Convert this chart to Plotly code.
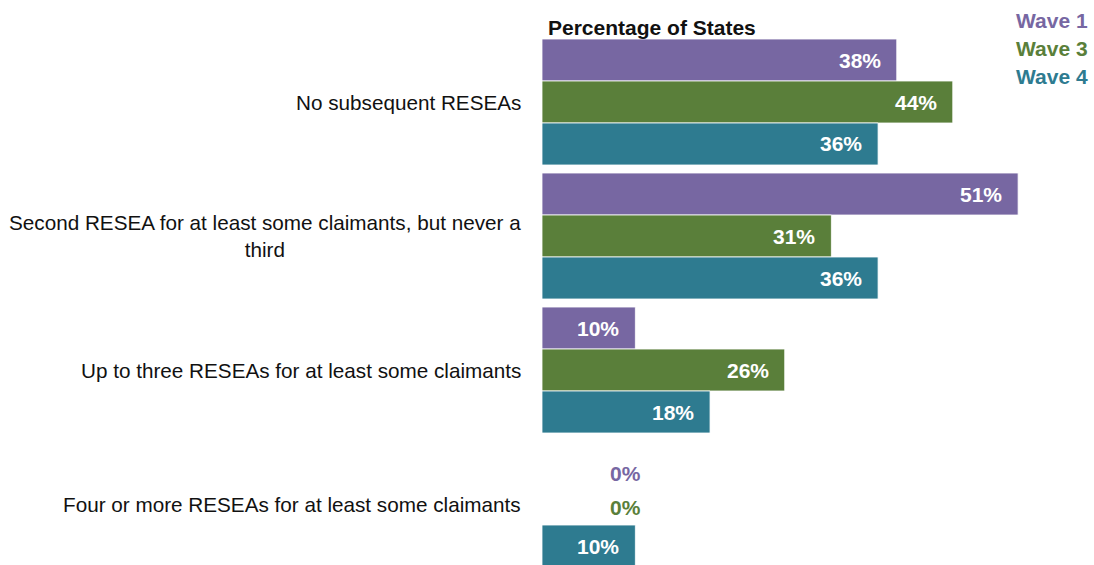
import plotly.graph_objects as go

categories = [
    "No subsequent RESEAs",
    "Second RESEA for at least some claimants, but never a<br>third",
    "Up to three RESEAs for at least some claimants",
    "Four or more RESEAs for at least some claimants",
]
series_names = ["Wave 1", "Wave 3", "Wave 4"]
wave1 = [38, 51, 10, 0]
wave3 = [44, 31, 26, 0]
wave4 = [36, 36, 18, 10]
colors = ["#7767A2", "#5A7F3A", "#2E7B90"]

FONT = "Liberation Sans Narrow, Arial Narrow, Liberation Sans, Arial, sans-serif"
BARGAP = 0.06
ZERO_YSHIFT = [-11, -3, 0]

series_values = [wave1, wave3, wave4]
idx = list(range(len(categories)))

fig = go.Figure()
for name, vals, col in zip(series_names, series_values, colors):
    fig.add_trace(go.Bar(
        y=idx, x=vals, name=name, orientation="h",
        marker=dict(color=col, line=dict(color="white", width=0.8)),
        hoverinfo="skip",
    ))

annotations = []
bw = (1 - BARGAP) / len(series_names)
for s, (vals, col) in enumerate(zip(series_values, colors)):
    off = (s - (len(series_names) - 1) / 2) * bw
    for i, v in enumerate(vals):
        if v > 0:
            annotations.append(dict(
                x=v, y=i + off, xref="x", yref="y", text=f"<b>{v}%</b>",
                showarrow=False, xanchor="right", yanchor="middle", xshift=-14,
                font=dict(family=FONT, size=21, color="white"),
            ))
        else:
            annotations.append(dict(
                x=0, y=i + off, xref="x", yref="y", text=f"<b>{v}%</b>",
                showarrow=False, xanchor="right", yanchor="middle", xshift=101,
                yshift=ZERO_YSHIFT[s],
                font=dict(family=FONT, size=21, color=col),
            ))

for i, c in enumerate(categories):
    annotations.append(dict(
        x=0, y=i, xref="paper", yref="y", text=c, showarrow=False,
        xanchor="right", yanchor="middle", align="center", xshift=-19,
        font=dict(family=FONT, size=20.7, color="#111111"),
    ))

annotations.append(dict(
    x=0, y=1.015, xref="paper", yref="paper", text="<b>Percentage of States</b>",
    showarrow=False, xanchor="left", yanchor="middle", xshift=4,
    font=dict(family=FONT, size=21, color="#111111"),
))
for k, (name, col) in enumerate(zip(series_names, colors)):
    annotations.append(dict(
        x=1.0, y=1.0283 - k * 0.053, xref="paper", yref="paper",
        text=f"<b>{name}</b>", showarrow=False, xanchor="right", yanchor="middle",
        font=dict(family=FONT, size=21, color=col),
    ))

fig.update_layout(
    width=1094, height=565,
    margin=dict(l=542, r=4, t=35, b=0),
    barmode="group", bargap=BARGAP, bargroupgap=0,
    plot_bgcolor="white", paper_bgcolor="white",
    showlegend=False,
    xaxis=dict(range=[0, 58.7], visible=False, fixedrange=True),
    yaxis=dict(range=[3.455, -0.5], visible=False, fixedrange=True),
    annotations=annotations,
)

fig.write_html("out.html")
